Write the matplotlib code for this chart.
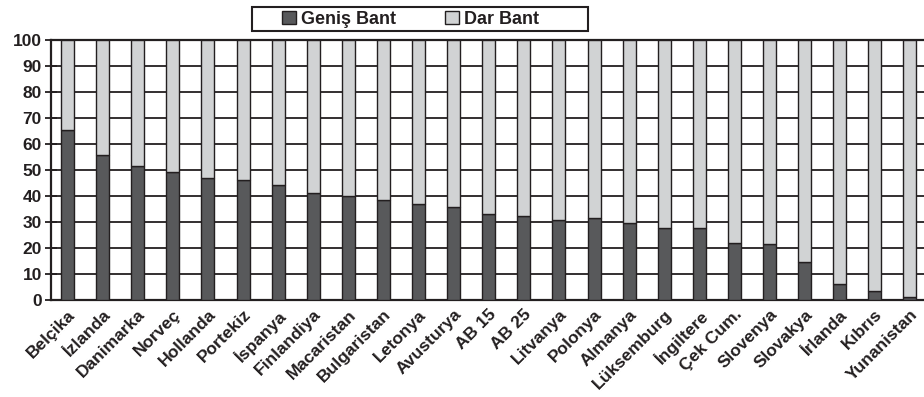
import matplotlib
matplotlib.use("Agg")
import matplotlib.pyplot as plt
from matplotlib.patches import Patch, Rectangle

countries = ["Belçika", "İzlanda", "Danimarka", "Norveç", "Hollanda", "Portekiz",
             "İspanya", "Finlandiya", "Macaristan", "Bulgaristan", "Letonya",
             "Avusturya", "AB 15", "AB 25", "Litvanya", "Polonya", "Almanya",
             "Lüksemburg", "İngiltere", "Çek Cum.", "Slovenya", "Slovakya",
             "İrlanda", "Kıbrıs", "Yunanistan"]
genis_bant = [65.5, 55.8, 51.7, 49.4, 47.1, 46.2, 44.4, 41.3, 40.0, 38.5, 36.9,
              35.9, 33.1, 32.2, 30.9, 31.4, 29.6, 27.8, 27.8, 22.0, 21.7, 14.6,
              6.3, 3.6, 1.2]
dar_bant = [100 - v for v in genis_bant]
y_ticks = list(range(0, 101, 10))

DARK = "#58595b"
LIGHT = "#d1d3d4"
LINE = "#231f20"

plt.rcParams["font.family"] = ["Liberation Sans", "DejaVu Sans"]
plt.rcParams["font.weight"] = "bold"

W, H = 924, 397
fig = plt.figure(figsize=(W / 100, H / 100), dpi=100)
ax = fig.add_axes([51 / W, 97 / H, (924 - 51) / W, 260 / H])

x = range(len(countries))
ax.bar(x, genis_bant, width=0.37, color=DARK, edgecolor=LINE, linewidth=1.0,
       zorder=3, label="Geniş Bant")
ax.bar(x, dar_bant, bottom=genis_bant, width=0.37, color=LIGHT, edgecolor=LINE,
       linewidth=1.0, zorder=3, label="Dar Bant")

ax.set_xlim(-0.47, 24.40)
ax.set_ylim(0, 100)
ax.set_yticks(y_ticks)
ax.yaxis.grid(True, color=LINE, linewidth=1.3, zorder=1)
ax.set_axisbelow(True)

for side in ("left", "bottom", "top"):
    ax.spines[side].set_color(LINE)
    ax.spines[side].set_linewidth(1.6)
ax.spines["right"].set_visible(False)

ax.tick_params(axis="y", direction="inout", length=9, width=1.3, color=LINE,
               labelsize=12.5, pad=2, labelcolor=LINE)
ax.tick_params(axis="x", length=0, pad=5, labelsize=12.5, labelcolor=LINE)
ax.set_xticks(list(x))
ax.set_xticklabels(countries, rotation=45, ha="right", va="top",
                   rotation_mode="anchor")

# legend box drawn as its own frame, entries placed inside it
fig.patches.append(Rectangle((252 / W, 1 - 31 / H), 336 / W, 24 / H,
                             transform=fig.transFigure, facecolor="white",
                             edgecolor=LINE, linewidth=1.5, zorder=0))
handles = [Patch(facecolor=DARK, edgecolor=LINE, linewidth=1.0),
           Patch(facecolor=LIGHT, edgecolor=LINE, linewidth=1.0)]
leg = fig.legend(handles, ["Geniş Bant", "Dar Bant"], ncol=2,
                 loc="center left", bbox_to_anchor=(282 / W, 1 - 19 / H),
                 frameon=False, fontsize=13,
                 handlelength=0.75, handleheight=0.75, handletextpad=0.28,
                 borderpad=0, borderaxespad=0, columnspacing=2.75)
for t in leg.get_texts():
    t.set_color(LINE)

fig.savefig("out.png", dpi=100)
